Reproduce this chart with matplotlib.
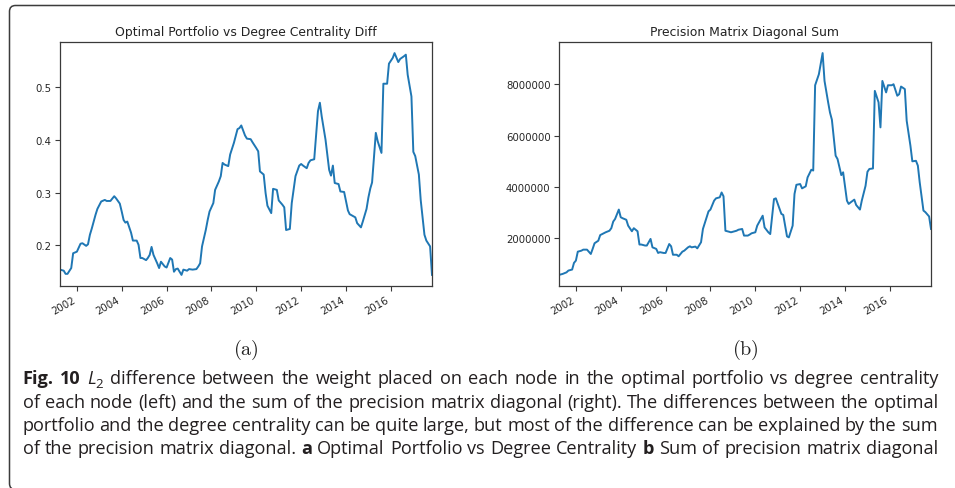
import matplotlib
matplotlib.use("Agg")
import matplotlib.pyplot as plt
import matplotlib.dates as mdates
import matplotlib.ticker as mticker
from matplotlib.patches import FancyBboxPatch
from matplotlib.transforms import IdentityTransform
from matplotlib import font_manager
import pandas as pd

# ---------------- data ----------------
left_dates = ['2001-04', '2001-06', '2001-07', '2001-08', '2001-10', '2001-11',
              '2002-01', '2002-03', '2002-04', '2002-06', '2002-07', '2002-08', '2002-09', '2002-11', '2002-12',
              '2003-02', '2003-04', '2003-05', '2003-07', '2003-09', '2003-10', '2003-12',
              '2004-01', '2004-02', '2004-03', '2004-04', '2004-06', '2004-07', '2004-09', '2004-10', '2004-11', '2004-12',
              '2005-02', '2005-03', '2005-04', '2005-05', '2005-06', '2005-08', '2005-09', '2005-10', '2005-12',
              '2006-01', '2006-03', '2006-04', '2006-05', '2006-06', '2006-07', '2006-09', '2006-10', '2006-12',
              '2007-01', '2007-03', '2007-05', '2007-06', '2007-07', '2007-08', '2007-10', '2007-11', '2007-12',
              '2008-02', '2008-03', '2008-05', '2008-06', '2008-07', '2008-08', '2008-10', '2008-11',
              '2009-01', '2009-03', '2009-04', '2009-05', '2009-07', '2009-08', '2009-10', '2009-11',
              '2010-01', '2010-02', '2010-03', '2010-05', '2010-06', '2010-07', '2010-09', '2010-10', '2010-12',
              '2011-01', '2011-03', '2011-04', '2011-05', '2011-07', '2011-08', '2011-10', '2011-12',
              '2012-01', '2012-02', '2012-04', '2012-05', '2012-06', '2012-08', '2012-10', '2012-11', '2012-12',
              '2013-02', '2013-04', '2013-05', '2013-06', '2013-07', '2013-09', '2013-10', '2013-12',
              '2014-02', '2014-03', '2014-04', '2014-06', '2014-07', '2014-09', '2014-10', '2014-12',
              '2015-01', '2015-02', '2015-03', '2015-05', '2015-06', '2015-08', '2015-09', '2015-11', '2015-12',
              '2016-02', '2016-03', '2016-05', '2016-06', '2016-08', '2016-09', '2016-10', '2016-12',
              '2017-01', '2017-02', '2017-04', '2017-05', '2017-07', '2017-08', '2017-10', '2017-11']
left_values = [0.154, 0.152, 0.146, 0.146, 0.157, 0.185,
               0.188, 0.203, 0.204, 0.199, 0.202, 0.220, 0.232, 0.258, 0.269,
               0.283, 0.286, 0.284, 0.284, 0.293, 0.289, 0.279,
               0.264, 0.248, 0.243, 0.245, 0.224, 0.209, 0.209, 0.201, 0.176, 0.176,
               0.172, 0.176, 0.182, 0.197, 0.182, 0.166, 0.157, 0.169, 0.160,
               0.158, 0.176, 0.173, 0.150, 0.155, 0.156, 0.144, 0.154, 0.152,
               0.155, 0.154, 0.155, 0.160, 0.166, 0.198, 0.229, 0.248, 0.264,
               0.280, 0.305, 0.321, 0.331, 0.356, 0.353, 0.350, 0.372,
               0.394, 0.420, 0.422, 0.427, 0.408, 0.402, 0.401, 0.395,
               0.384, 0.378, 0.340, 0.334, 0.299, 0.275, 0.261, 0.307, 0.305,
               0.285, 0.277, 0.272, 0.229, 0.231, 0.280, 0.331, 0.351,
               0.354, 0.351, 0.346, 0.356, 0.361, 0.363, 0.454, 0.470, 0.444,
               0.400, 0.343, 0.332, 0.351, 0.318, 0.316, 0.302, 0.301,
               0.266, 0.259, 0.257, 0.253, 0.242, 0.234, 0.245, 0.269,
               0.291, 0.308, 0.319, 0.413, 0.397, 0.375, 0.506, 0.506, 0.544,
               0.555, 0.564, 0.547, 0.553, 0.558, 0.561, 0.523, 0.482,
               0.377, 0.369, 0.334, 0.286, 0.220, 0.209, 0.198, 0.144]

right_dates = ['2001-04', '2001-06', '2001-08', '2001-09', '2001-11', '2001-12',
               '2002-01', '2002-02', '2002-04', '2002-05', '2002-07', '2002-09', '2002-10', '2002-11',
               '2003-01', '2003-02', '2003-04', '2003-05', '2003-07', '2003-08', '2003-09', '2003-10', '2003-12',
               '2004-01', '2004-02', '2004-04', '2004-05', '2004-07', '2004-08', '2004-10', '2004-11', '2004-12',
               '2005-02', '2005-03', '2005-05', '2005-06', '2005-08', '2005-09', '2005-10', '2005-12',
               '2006-01', '2006-03', '2006-04', '2006-05', '2006-07', '2006-08', '2006-10', '2006-11',
               '2007-01', '2007-02', '2007-03', '2007-05', '2007-06', '2007-08', '2007-09', '2007-11', '2007-12',
               '2008-01', '2008-03', '2008-04', '2008-06', '2008-07', '2008-08', '2008-09', '2008-11', '2008-12',
               '2009-01', '2009-03', '2009-04', '2009-06', '2009-07', '2009-09', '2009-10', '2009-11',
               '2010-01', '2010-02', '2010-04', '2010-05', '2010-06', '2010-08', '2010-09', '2010-11', '2010-12',
               '2011-02', '2011-03', '2011-04', '2011-06', '2011-07', '2011-09', '2011-10', '2011-11',
               '2012-01', '2012-02', '2012-04', '2012-05', '2012-07', '2012-08', '2012-09', '2012-11',
               '2013-01', '2013-02', '2013-04', '2013-05', '2013-06', '2013-08', '2013-09', '2013-11', '2013-12',
               '2014-02', '2014-03', '2014-04', '2014-06', '2014-07', '2014-09', '2014-10', '2014-12',
               '2015-01', '2015-02', '2015-04', '2015-05', '2015-07', '2015-08', '2015-09', '2015-11', '2015-12',
               '2016-02', '2016-03', '2016-05', '2016-06', '2016-07', '2016-09', '2016-10', '2016-12',
               '2017-01', '2017-03', '2017-04', '2017-05', '2017-07', '2017-08', '2017-10', '2017-11']
right_values_millions = [0.54, 0.58, 0.64, 0.71, 0.75, 1.01,
                         1.10, 1.45, 1.49, 1.53, 1.53, 1.36, 1.56, 1.78,
                         1.88, 2.10, 2.17, 2.21, 2.27, 2.37, 2.63, 2.73, 3.10,
                         2.80, 2.76, 2.70, 2.47, 2.25, 2.37, 2.25, 1.73, 1.73,
                         1.69, 1.69, 1.95, 1.62, 1.56, 1.40, 1.43, 1.40,
                         1.40, 1.75, 1.66, 1.33, 1.33, 1.27, 1.45, 1.49,
                         1.62, 1.66, 1.62, 1.65, 1.58, 1.82, 2.34, 2.80, 3.03,
                         3.10, 3.45, 3.54, 3.58, 3.77, 3.62, 2.27, 2.23, 2.21,
                         2.23, 2.27, 2.31, 2.34, 2.08, 2.08, 2.12, 2.17,
                         2.21, 2.47, 2.73, 2.86, 2.40, 2.21, 2.14, 3.51, 3.54,
                         3.12, 2.93, 2.89, 2.05, 2.01, 2.47, 3.71, 4.07,
                         4.10, 3.93, 4.01, 4.36, 4.66, 4.63, 7.97, 8.40,
                         9.23, 8.14, 7.30, 6.90, 6.62, 5.21, 5.08, 4.45, 4.56,
                         3.45, 3.32, 3.38, 3.49, 3.28, 3.10, 3.45, 4.03,
                         4.58, 4.69, 4.71, 7.75, 7.30, 6.32, 8.14, 7.69, 7.97,
                         7.97, 8.01, 7.56, 7.62, 7.92, 7.82, 6.58, 5.60,
                         4.99, 5.01, 4.82, 4.17, 3.06, 3.00, 2.83, 2.34]

titles = ['Optimal Portfolio vs Degree Centrality Diff', 'Precision Matrix Diagonal Sum']
panel_labels = [r'$\mathrm{(a)}$', r'$\mathrm{(b)}$']

# caption: words; **x** = bold, L_2 = italic L with subscript 2
caption_lines = [
    "**Fig.** **10** L_2 difference between the weight placed on each node in the optimal portfolio vs degree centrality",
    "of each node (left) and the sum of the precision matrix diagonal (right). The differences between the optimal",
    "portfolio and the degree centrality can be quite large, but most of the difference can be explained by the sum",
    "of the precision matrix diagonal. **a** Optimal Portfolio vs Degree Centrality **b** Sum of precision matrix diagonal",
]

# ---------------- figure ----------------
W, H = 955, 489
plt.rcParams['mathtext.fontset'] = 'cm'
fig = plt.figure(figsize=(W / 100, H / 100), dpi=100)
fig.patch.set_facecolor('white')

line_color = '#1f77b4'
tick_color = '#262626'
spine_color = '#3a3a3a'

left = pd.Series(left_values, index=pd.to_datetime(left_dates))
right = pd.Series([v * 1e6 for v in right_values_millions], index=pd.to_datetime(right_dates))

ax_boxes = [(60, 43, 432, 287), (559, 43, 931, 287)]
series = [left, right]
axes = []
for i, (x0, y0, x1, y1) in enumerate(ax_boxes):
    ax = fig.add_axes([x0 / W, 1 - y1 / H, (x1 - x0) / W, (y1 - y0) / H])
    s = series[i]
    ax.plot(s.index, s.values, color=line_color, lw=1.4)
    ax.set_xlim(s.index[0], s.index[-1])
    ax.margins(y=0.05)
    ax.xaxis.set_major_locator(mdates.YearLocator(2))
    ax.xaxis.set_major_formatter(mdates.DateFormatter('%Y'))
    ax.set_title(titles[i], fontsize=8.9, color='#222222', pad=5.0)
    for sp in ax.spines.values():
        sp.set_color(spine_color)
        sp.set_linewidth(0.9)
    ax.tick_params(axis='both', labelsize=7.3, colors=spine_color, labelcolor=tick_color,
                   length=3.5, width=0.8, pad=2.5)
    for lab in ax.get_xticklabels():
        lab.set_rotation(30)
        lab.set_ha('right')
    axes.append(ax)

axes[0].yaxis.set_major_locator(mticker.MultipleLocator(0.1))
axes[1].yaxis.set_major_locator(mticker.MultipleLocator(2e6))
axes[1].yaxis.set_major_formatter(mticker.FuncFormatter(lambda v, p: f'{v:.0f}'))

# panel labels
for i, (x0, y0, x1, y1) in enumerate(ax_boxes):
    cx = (x0 + x1) / 2
    fig.text(cx / W, 1 - 350 / H, panel_labels[i], ha='center', va='center',
             fontsize=14.5, color='#222222')

# frame around the figure (rounded corner box running off the right and bottom edges)
frame = FancyBboxPatch((9.5, -1.5), 990, H - 6.5 + 1.5,
                       boxstyle='round,pad=0,rounding_size=6',
                       transform=IdentityTransform(), fill=False,
                       ec='#3c3c3c', lw=1.1)
fig.add_artist(frame)

# ---------------- caption ----------------
names = {f.name for f in font_manager.fontManager.ttflist}
cap_family = 'DejaVu Sans'
for cand in ['Open Sans', 'Noto Sans', 'Lato']:
    if cand in names:
        cap_family = cand
        break

renderer = fig.canvas.get_renderer()
cap_color = '#231f20'


def text_width(s, size, weight='normal', style='normal'):
    kw = dict(fontsize=size, fontweight=weight, fontstyle=style, family=cap_family)
    t1 = fig.text(0, 0, 'X' + s + 'X', **kw)
    t0 = fig.text(0, 0, 'XX', **kw)
    w = t1.get_window_extent(renderer).width - t0.get_window_extent(renderer).width
    t1.remove()
    t0.remove()
    return w


def word_pieces(word):
    if word.startswith('**') and word.endswith('**'):
        return [(word[2:-2], 'bold', 'normal', 1.0, 0.0)]
    if word == 'L_2':
        return [('L', 'normal', 'italic', 1.0, 0.0), ('2', 'normal', 'normal', 0.72, 3.5)]
    return [(word, 'normal', 'normal', 1.0, 0.0)]


def natural_width(line, size):
    words = line.split(' ')
    ws = sum(text_width(p[0], size * p[3], p[1], p[2]) for w in words for p in word_pieces(w))
    return ws + text_width(' ', size) * (len(words) - 1)


x_start, x_end = 22.5, 938.0
target = x_end - x_start
base_size = 11.0
nat = [natural_width(l, base_size) for l in caption_lines]
cap_size = base_size * target / (sum(nat) / len(nat)) * 0.995

baselines = [384.5, 407.8, 431.1, 454.4]
for line, yb in zip(caption_lines, baselines):
    words = line.split(' ')
    pieces = [word_pieces(w) for w in words]
    widths = [[text_width(p[0], cap_size * p[3], p[1], p[2]) for p in pw] for pw in pieces]
    total = sum(sum(w) for w in widths)
    gap = (target - total) / (len(words) - 1)
    x = x_start
    for pw, wl in zip(pieces, widths):
        for p, w in zip(pw, wl):
            fig.text(x / W, 1 - (yb + p[4]) / H, p[0], fontsize=cap_size * p[3],
                     fontweight=p[1], fontstyle=p[2], family=cap_family,
                     color=cap_color, ha='left', va='baseline')
            x += w
        x += gap

fig.savefig('out.png', dpi=100, facecolor='white')
